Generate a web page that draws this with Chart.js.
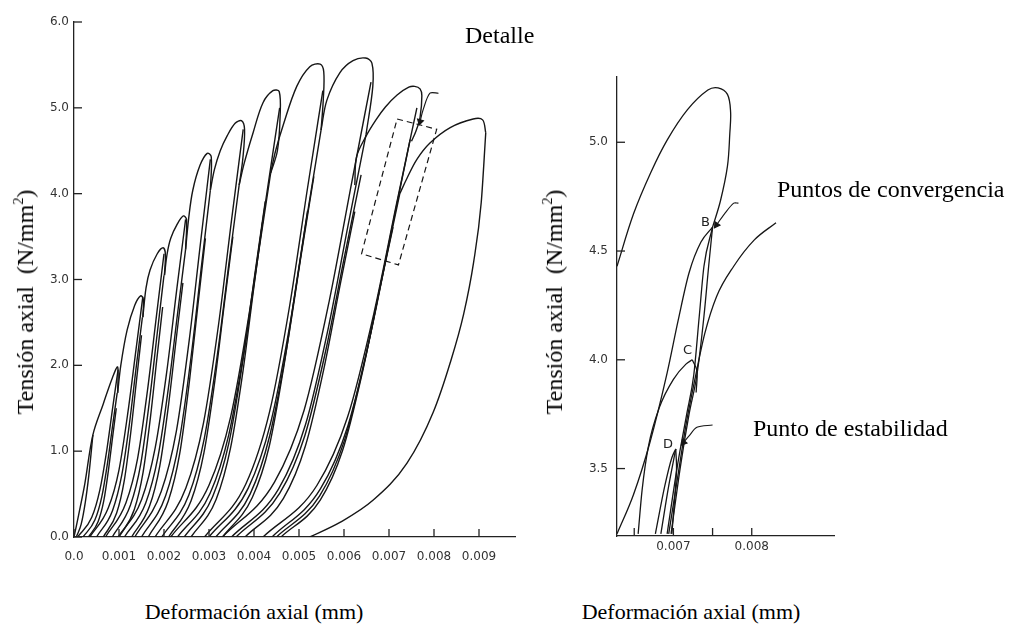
<!DOCTYPE html>
<html lang="es">
<head>
<meta charset="UTF-8">
<title>Tensión axial - deformación axial</title>
<script src="https://cdn.jsdelivr.net/npm/chart.js"></script>
<style>
    body { margin: 0; background: #fff; }
    #lienzo { position: relative; width: 1010px; height: 630px; overflow: hidden; background: #fff; }
    canvas { position: absolute; top: 0; }
    .texto { position: absolute; font-family: "Liberation Serif", "Times New Roman", serif; color: #000; white-space: nowrap; line-height: 1; }
    .vertical { transform: translate(-50%, -50%) rotate(-90deg); font-size: 24px; }
    .pie { transform: translate(-50%, -50%); font-size: 22px; }
    .nota { transform: translateY(-50%); font-size: 24px; }
    sup { font-size: 0.6em; vertical-align: 0.7em; }
</style>
</head>
<body>
<div id="lienzo">
    <canvas id="graficoTotal" width="540" height="580" style="left:0"></canvas>
    <canvas id="graficoDetalle" width="470" height="580" style="left:540px"></canvas>

    <div class="texto vertical" style="left:24px; top:302px">Tensión axial&nbsp; (N/mm<sup>2</sup>)</div>
    <div class="texto vertical" style="left:553px; top:302px">Tensión axial&nbsp; (N/mm<sup>2</sup>)</div>
    <div class="texto pie" style="left:254px; top:612px">Deformación axial (mm)</div>
    <div class="texto pie" style="left:691px; top:612px">Deformación axial (mm)</div>
    <div class="texto nota" style="left:465px; top:35px">Detalle</div>
    <div class="texto nota" style="left:777px; top:189px">Puntos de convergencia</div>
    <div class="texto nota" style="left:753px; top:428px">Punto de estabilidad</div>
</div>

<script>
    // ---- grafico general: ejes ----
    const ticksXTotal = [0, 0.001, 0.002, 0.003, 0.004, 0.005, 0.006, 0.007, 0.008, 0.009];
    const etiquetasXTotal = ['0.0', '0.001', '0.002', '0.003', '0.004', '0.005', '0.006', '0.007', '0.008', '0.009'];
    const ticksYTotal = [0, 1, 2, 3, 4, 5, 6];
    const etiquetasYTotal = ['0.0', '1.0', '2.0', '3.0', '4.0', '5.0', '6.0'];

    // envolventes de cada ciclo (carga hasta el pico y caida)
    const envolvente1 = [[0, 0], [0.0001, 0.25], [0.00024, 0.62], [0.00042, 1.19], [0.00065, 1.55], [0.00085, 1.85], [0.00097, 1.98], [0.00097, 1.68]];
    const envolvente2 = [[0.00097, 1.68], [0.00104, 2.0], [0.00118, 2.41], [0.00135, 2.7], [0.00148, 2.81], [0.00154, 2.77], [0.00153, 2.56]];
    const envolvente3 = [[0.00153, 2.56], [0.0016, 2.9], [0.00169, 3.11], [0.00185, 3.3], [0.00198, 3.37], [0.00203, 3.3], [0.00201, 3.05]];
    const envolvente4 = [[0.00201, 3.05], [0.00207, 3.3], [0.00215, 3.48], [0.0023, 3.65], [0.00243, 3.74], [0.0025, 3.7], [0.00248, 3.35]];
    const envolvente5 = [[0.00248, 3.35], [0.00255, 3.72], [0.00264, 4.04], [0.0028, 4.33], [0.00296, 4.47], [0.00305, 4.43], [0.00303, 4.04]];
    const envolvente6 = [[0.00303, 4.04], [0.00312, 4.28], [0.00325, 4.5], [0.0034, 4.67], [0.00358, 4.82], [0.00372, 4.85], [0.00379, 4.75], [0.00375, 4.4], [0.00367, 4.1]];
    const envolvente7 = [[0.00367, 4.1], [0.00378, 4.35], [0.00398, 4.71], [0.0042, 5.06], [0.00442, 5.2], [0.00456, 5.19], [0.00458, 4.9], [0.00452, 4.5], [0.00437, 4.24]];
    const envolvente8 = [[0.00437, 4.24], [0.00448, 4.5], [0.00465, 4.8], [0.00495, 5.25], [0.00524, 5.48], [0.00547, 5.51], [0.00555, 5.42], [0.00554, 5.1], [0.00549, 4.74]];
    const envolvente9 = [[0.00549, 4.74], [0.00562, 5.09], [0.00591, 5.41], [0.0062, 5.55], [0.00648, 5.58], [0.00662, 5.52], [0.00664, 5.25], [0.00649, 4.69]];
    const envolvente10 = [[0.00624, 4.1], [0.00628, 4.43], [0.00649, 4.67], [0.00671, 4.86], [0.00692, 5.01], [0.00718, 5.15], [0.00744, 5.24], [0.00757, 5.25], [0.00769, 5.22], [0.00773, 5.14], [0.00769, 4.89], [0.0076, 4.73], [0.0075, 4.61]];
    const envolvente11 = [[0.00724, 4.0], [0.0074, 4.18], [0.00762, 4.4], [0.00791, 4.59], [0.00836, 4.77], [0.00887, 4.87], [0.00908, 4.86], [0.00915, 4.71]];
    const descargaFinal = [[0.00915, 4.71], [0.00905, 3.9], [0.00888, 3.2], [0.00866, 2.6], [0.00836, 2.03], [0.00798, 1.45], [0.0074, 0.86], [0.00665, 0.43], [0.00591, 0.17], [0.00524, 0]];
    const lazoInicial = [[0.00005, 0], [0.00016, 0.15], [0.00025, 0.4], [0.00033, 0.72], [0.00042, 1.19]];

    // descargas y recargas de cada ciclo
    const ciclo1a = [[0.00008, 0], [0.000395, 0.23], [0.000575, 0.55], [0.000728, 1.01], [0.000863, 1.52], [0.00098, 1.95]];
    const ciclo1b = [[0.0002, 0], [0.000466, 0.2], [0.000618, 0.47], [0.000747, 0.87], [0.000861, 1.31], [0.00096, 1.68]];
    const ciclo1c = [[0.00032, 0], [0.000537, 0.18], [0.000661, 0.42], [0.000766, 0.78], [0.000859, 1.17], [0.00094, 1.5]];
    const ciclo2a = [[0.00035, 0], [0.000763, 0.34], [0.000999, 0.78], [0.0012, 1.46], [0.001377, 2.18], [0.00153, 2.8]];
    const ciclo2b = [[0.0005, 0], [0.000857, 0.31], [0.001061, 0.72], [0.001234, 1.33], [0.001387, 2.0], [0.00152, 2.56]];
    const ciclo2c = [[0.00065, 0], [0.000948, 0.28], [0.001118, 0.66], [0.001262, 1.22], [0.00139, 1.83], [0.0015, 2.35]];
    const ciclo3a = [[0.0007, 0], [0.001155, 0.4], [0.001415, 0.92], [0.001636, 1.72], [0.001831, 2.57], [0.002, 3.3]];
    const ciclo3b = [[0.00085, 0], [0.001253, 0.37], [0.001483, 0.85], [0.001678, 1.59], [0.001851, 2.38], [0.002, 3.05]];
    const ciclo3c = [[0.001, 0], [0.00134, 0.32], [0.001534, 0.75], [0.001698, 1.39], [0.001844, 2.09], [0.00197, 2.68]];
    const ciclo4a = [[0.00098, 0], [0.001505, 0.44], [0.001805, 1.04], [0.00206, 1.92], [0.002285, 2.89], [0.00248, 3.7]];
    const ciclo4b = [[0.00112, 0], [0.001596, 0.4], [0.001868, 0.94], [0.002099, 1.74], [0.002303, 2.61], [0.00248, 3.35]];
    const ciclo4c = [[0.00128, 0], [0.001679, 0.36], [0.001907, 0.83], [0.002101, 1.54], [0.002272, 2.31], [0.00242, 2.96]];
    const ciclo5a = [[0.00135, 0], [0.001938, 0.53], [0.002274, 1.23], [0.00256, 2.29], [0.002812, 3.43], [0.00303, 4.4]];
    const ciclo5b = [[0.0015, 0], [0.002036, 0.48], [0.002342, 1.13], [0.002602, 2.1], [0.002831, 3.15], [0.00303, 4.04]];
    const ciclo5c = [[0.00165, 0], [0.002095, 0.42], [0.002349, 0.97], [0.002564, 1.81], [0.002755, 2.71], [0.00292, 3.48]];
    const ciclo6a = [[0.0018, 0], [0.002486, 0.57], [0.002878, 1.33], [0.003211, 2.47], [0.003505, 3.71], [0.00376, 4.75]];
    const ciclo6b = [[0.00195, 0], [0.002552, 0.49], [0.002896, 1.15], [0.003188, 2.13], [0.003446, 3.2], [0.00367, 4.1]];
    const ciclo6c = [[0.0021, 0], [0.0026, 0.42], [0.002887, 0.98], [0.00313, 1.82], [0.003344, 2.73], [0.00353, 3.5]];
    const ciclo7a = [[0.00215, 0], [0.002997, 0.6], [0.003481, 1.4], [0.003892, 2.6], [0.004255, 3.9], [0.00457, 5.0]];
    const ciclo7b = [[0.0023, 0], [0.003025, 0.51], [0.003439, 1.19], [0.00379, 2.2], [0.004101, 3.31], [0.00437, 4.24]];
    const ciclo7c = [[0.00245, 0], [0.00308, 0.47], [0.00344, 1.09], [0.003746, 2.03], [0.004016, 3.05], [0.00425, 3.91]];
    const ciclo7d = [[0.0026, 0], [0.00316, 0.44], [0.00348, 1.04], [0.003752, 1.92], [0.003992, 2.89], [0.0042, 3.7]];
    const ciclo8a = [[0.0029, 0], [0.003821, 0.62], [0.004347, 1.46], [0.004794, 2.7], [0.005188, 4.06], [0.00553, 5.2]];
    const ciclo8b = [[0.003, 0], [0.003872, 0.57], [0.00437, 1.33], [0.004793, 2.46], [0.005166, 3.7], [0.00549, 4.74]];
    const ciclo8c = [[0.00315, 0], [0.003913, 0.5], [0.004349, 1.18], [0.00472, 2.18], [0.005047, 3.28], [0.00533, 4.2]];
    const ciclo8d = [[0.0033, 0], [0.003962, 0.46], [0.00434, 1.06], [0.004661, 1.98], [0.004944, 2.96], [0.00519, 3.8]];
    const ciclo9a = [[0.0033, 0], [0.004455, 0.64], [0.005115, 1.48], [0.005676, 2.76], [0.006171, 4.13], [0.0066, 5.3]];
    const ciclo9b = [[0.0035, 0], [0.004547, 0.56], [0.005145, 1.31], [0.005653, 2.44], [0.006101, 3.66], [0.00649, 4.69]];
    const ciclo9c = [[0.0036, 0], [0.004573, 0.51], [0.005129, 1.18], [0.005602, 2.19], [0.006019, 3.29], [0.00638, 4.22]];
    const ciclo9d = [[0.0038, 0], [0.004654, 0.45], [0.005142, 1.06], [0.005557, 1.97], [0.005923, 2.96], [0.00624, 3.79]];
    const ciclo10a = [[0.0042, 0], [0.005397, 0.6], [0.006081, 1.4], [0.006662, 2.6], [0.007175, 3.9], [0.00762, 5.0]];
    const ciclo10b = [[0.0044, 0], [0.005475, 0.56], [0.006089, 1.3], [0.00661, 2.41], [0.007071, 3.61], [0.00747, 4.63]];
    const ciclo10c = [[0.0045, 0], [0.005459, 0.48], [0.006007, 1.12], [0.006473, 2.08], [0.006884, 3.12], [0.00724, 4.0]];
    const ciclo10d = [[0.0046, 0], [0.005472, 0.43], [0.00597, 1.01], [0.006393, 1.88], [0.006766, 2.82], [0.00709, 3.61]];

    // recuadro del detalle y su flecha
    const recuadroDetalle = [[0.00718, 4.87], [0.00806, 4.75], [0.00721, 3.17], [0.00639, 3.3], [0.00718, 4.87]];
    const flechaDetalle = [[0.0081, 5.17], [0.00791, 5.17], [0.00776, 4.98], [0.00769, 4.84]];

    // ---- grafico de detalle ----
    const ticksXDetalle = [0.0065, 0.007, 0.0075, 0.008];
    const etiquetasXDetalle = ['', '0.007', '', '0.008'];
    const ticksYDetalle = [3.5, 4.0, 4.5, 5.0];
    const etiquetasYDetalle = ['3.5', '4.0', '4.5', '5.0'];

    const detalleLazo = [[0.00628, 4.43], [0.00649, 4.67], [0.00671, 4.86], [0.00692, 5.01], [0.00718, 5.15], [0.00744, 5.24], [0.00757, 5.25], [0.00769, 5.22], [0.00773, 5.14], [0.00772, 5.04], [0.00769, 4.89], [0.0076, 4.73], [0.0075, 4.61]];
    const detalleB1 = [[0.00628, 3.2], [0.00649, 3.38], [0.0067, 3.62], [0.00692, 3.94], [0.00706, 4.18], [0.0072, 4.4], [0.00735, 4.54], [0.0075, 4.61]];
    const detalleB2 = [[0.00692, 3.2], [0.00705, 3.51], [0.00717, 3.75], [0.00726, 3.93], [0.00733, 4.2], [0.00739, 4.43], [0.0075, 4.61]];
    const detalleB3 = [[0.00697, 3.2], [0.00709, 3.51], [0.0072, 3.75], [0.0073, 3.93], [0.00739, 4.2], [0.00745, 4.43], [0.0075, 4.61]];
    const detalleC = [[0.00655, 3.2], [0.0066, 3.4], [0.00668, 3.6], [0.00682, 3.78], [0.007, 3.91], [0.00716, 3.98], [0.00724, 4.0]];
    const detalleCaida = [[0.00724, 4.0], [0.0073, 3.95], [0.00729, 3.85]];
    const detalleD1 = [[0.00677, 3.2], [0.00689, 3.42], [0.00698, 3.55], [0.00703, 3.59]];
    const detalleD2 = [[0.00684, 3.2], [0.00694, 3.42], [0.00703, 3.59]];
    const detalleD3 = [[0.00703, 3.59], [0.00704, 3.5], [0.00702, 3.38], [0.00698, 3.2]];
    const detalleEnvolvente = [[0.00694, 3.2], [0.00705, 3.45], [0.00716, 3.7], [0.00728, 3.92], [0.0074, 4.12], [0.00755, 4.29], [0.00777, 4.43], [0.00803, 4.55], [0.00831, 4.63]];
    const flechaB = [[0.00783, 4.72], [0.00777, 4.72], [0.00765, 4.67], [0.00755, 4.62]];
    const flechaD = [[0.0075, 3.7], [0.0073, 3.69], [0.0072, 3.65], [0.00713, 3.62]];
    const letrasPuntos = ['B', 'C', 'D'];
    const letrasX = [0.00741, 0.00718, 0.00693];
    const letrasY = [4.63, 4.04, 3.61];

    const tinta = '#161616';

    function serie(puntos, extra) {
        return Object.assign({
            data: puntos.map(p => ({ x: p[0], y: p[1] })),
            showLine: true,
            borderColor: tinta,
            borderWidth: 1.4,
            pointRadius: 0,
            tension: 0.35,
            fill: false
        }, extra || {});
    }

    // curvas con x creciente: interpolacion monotona, sin ondas
    const suave = { cubicInterpolationMode: 'monotone' };

    function flecha(puntos, giro) {
        return serie(puntos, {
            tension: 0.3,
            borderWidth: 1.1,
            pointStyle: 'triangle',
            pointRadius: puntos.map((p, i) => i === puntos.length - 1 ? 3.5 : 0),
            rotation: giro,
            pointBackgroundColor: tinta,
            pointBorderColor: tinta
        });
    }

    // marcas de los ejes hacia dentro
    const marcasInternas = {
        id: 'marcasInternas',
        afterDatasetsDraw(chart) {
            const { ctx, chartArea: a, scales: { x, y } } = chart;
            ctx.save();
            ctx.strokeStyle = '#222';
            ctx.lineWidth = 1.3;
            x.ticks.forEach(t => {
                const px = x.getPixelForValue(t.value);
                ctx.beginPath(); ctx.moveTo(px, a.bottom); ctx.lineTo(px, a.bottom - 8); ctx.stroke();
            });
            y.ticks.forEach(t => {
                const py = y.getPixelForValue(t.value);
                ctx.beginPath(); ctx.moveTo(a.left, py); ctx.lineTo(a.left + 8, py); ctx.stroke();
            });
            ctx.restore();
        }
    };

    const letrasDetalle = {
        id: 'letrasDetalle',
        afterDatasetsDraw(chart) {
            const { ctx, scales: { x, y } } = chart;
            ctx.save();
            ctx.font = '13px "DejaVu Sans", sans-serif';
            ctx.fillStyle = '#222';
            ctx.textAlign = 'center';
            ctx.textBaseline = 'middle';
            letrasPuntos.forEach((l, i) => ctx.fillText(l, x.getPixelForValue(letrasX[i]), y.getPixelForValue(letrasY[i])));
            ctx.restore();
        }
    };

    function ejes(cfg) {
        const fuente = { family: '"DejaVu Sans", sans-serif', size: 12 };
        return {
            x: {
                type: 'linear', min: cfg.xMin, max: cfg.xMax,
                afterBuildTicks: s => { s.ticks = cfg.ticksX.map(v => ({ value: v })); },
                afterFit: s => { s.height = cfg.altoX; },
                grid: { display: false, drawTicks: false },
                border: { display: true, color: '#222', width: 1.3 },
                ticks: { autoSkip: false, maxRotation: 0, padding: cfg.padX, color: '#333', font: fuente,
                    callback: (v, i) => cfg.etiquetasX[i] }
            },
            y: {
                type: 'linear', min: cfg.yMin, max: cfg.yMax,
                afterBuildTicks: s => { s.ticks = cfg.ticksY.map(v => ({ value: v })); },
                afterFit: s => { s.width = cfg.anchoY; },
                grid: { display: false, drawTicks: false },
                border: { display: true, color: '#222', width: 1.3 },
                ticks: { autoSkip: false, padding: cfg.padY, color: '#333', font: fuente,
                    callback: (v, i) => cfg.etiquetasY[i] }
            }
        };
    }

    const opcionesBase = {
        responsive: false,
        animation: false,
        events: [],
        plugins: { legend: { display: false }, tooltip: { enabled: false } }
    };

    const envolventes = [
        envolvente1, envolvente2, envolvente3, envolvente4, envolvente5, envolvente6,
        envolvente7, envolvente8, envolvente9, envolvente10, envolvente11
    ];
    const ramas = [
        lazoInicial, descargaFinal,
        ciclo1a, ciclo1b, ciclo1c, ciclo2a, ciclo2b, ciclo2c, ciclo3a, ciclo3b, ciclo3c,
        ciclo4a, ciclo4b, ciclo4c, ciclo5a, ciclo5b, ciclo5c, ciclo6a, ciclo6b, ciclo6c,
        ciclo7a, ciclo7b, ciclo7c, ciclo7d, ciclo8a, ciclo8b, ciclo8c, ciclo8d,
        ciclo9a, ciclo9b, ciclo9c, ciclo9d, ciclo10a, ciclo10b, ciclo10c, ciclo10d
    ];

    new Chart(document.getElementById('graficoTotal'), {
        type: 'scatter',
        data: {
            datasets: envolventes.map(c => serie(c))
                .concat(ramas.map(c => serie(c, suave)))
                .concat([
                    serie(recuadroDetalle, { tension: 0, borderWidth: 1.2, borderDash: [6, 4] }),
                    flecha(flechaDetalle, 195)
                ])
        },
        options: Object.assign({}, opcionesBase, {
            layout: { padding: { top: 22, right: 25, left: 0, bottom: 0 } },
            scales: ejes({
                xMin: 0, xMax: 0.0098, yMin: 0, yMax: 6,
                ticksX: ticksXTotal, etiquetasX: etiquetasXTotal,
                ticksY: ticksYTotal, etiquetasY: etiquetasYTotal,
                altoX: 43, anchoY: 74, padX: 13, padY: 5
            })
        }),
        plugins: [marcasInternas]
    });

    const ramasDetalle = [detalleB1, detalleB2, detalleB3, detalleC, detalleD1, detalleD2, detalleEnvolvente];
    const otrasDetalle = [detalleLazo, detalleCaida, detalleD3];

    new Chart(document.getElementById('graficoDetalle'), {
        type: 'scatter',
        data: {
            datasets: ramasDetalle.map(c => serie(c, Object.assign({ borderWidth: 1.3 }, suave)))
                .concat(otrasDetalle.map(c => serie(c, { borderWidth: 1.3, tension: 0.35 })))
                .concat([
                    flecha(flechaB, 215),
                    flecha(flechaD, 220)
                ])
        },
        options: Object.assign({}, opcionesBase, {
            layout: { padding: { top: 77, right: 176, left: 0, bottom: 0 } },
            scales: ejes({
                xMin: 0.00628, xMax: 0.00905, yMin: 3.19, yMax: 5.3,
                ticksX: ticksXDetalle, etiquetasX: etiquetasXDetalle,
                ticksY: ticksYDetalle, etiquetasY: etiquetasYDetalle,
                altoX: 44, anchoY: 77, padX: 4, padY: 9
            })
        }),
        plugins: [marcasInternas, letrasDetalle]
    });
</script>
</body>
</html>
